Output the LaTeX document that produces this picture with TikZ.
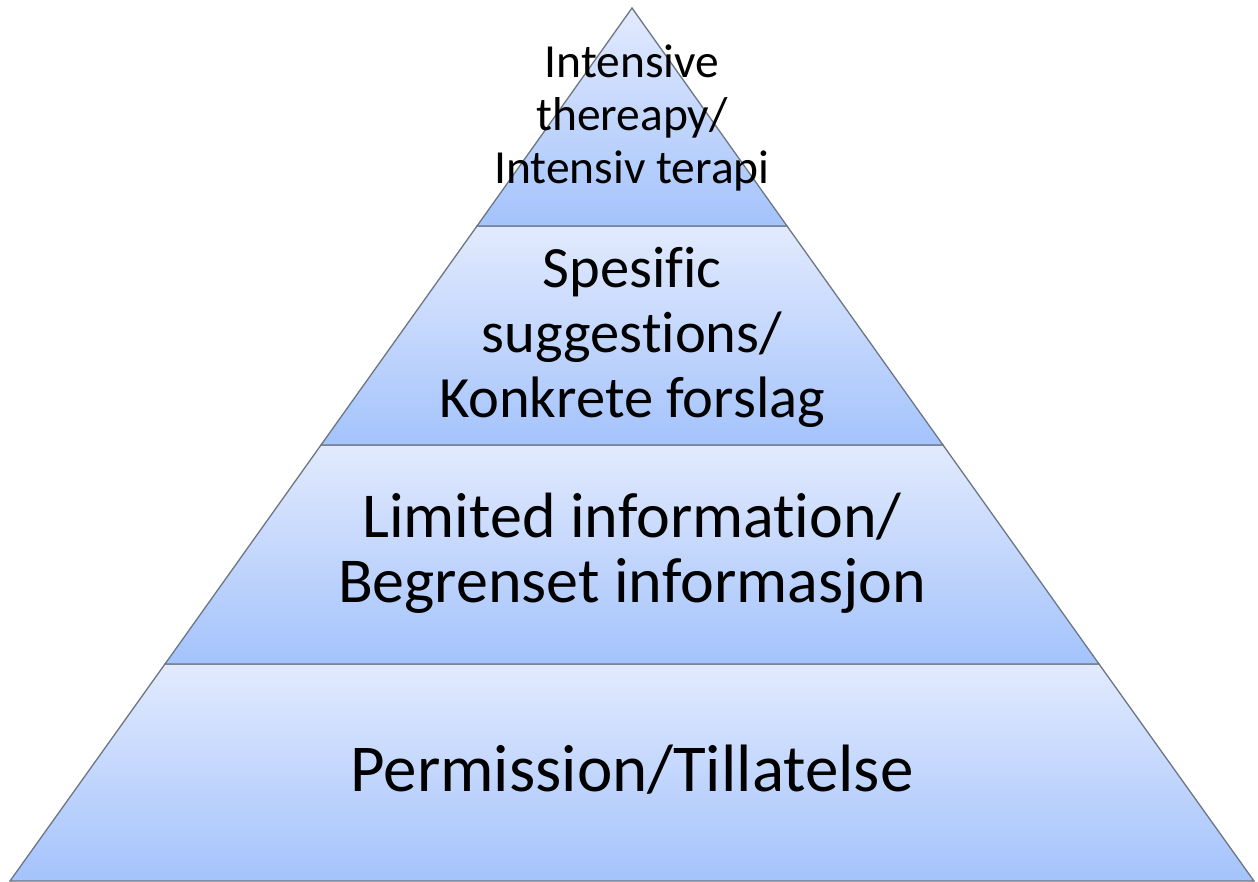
\documentclass[tikz,border=0pt]{standalone}
\usepackage{fontspec}
\setmainfont{Carlito}[Ligatures={NoCommon}]
\definecolor{layertop}{RGB}{226,234,253}
\definecolor{layerbot}{RGB}{164,195,252}
\definecolor{edge}{RGB}{108,118,132}
\begin{document}
\begin{tikzpicture}[x=1pt,y=-1pt,
  layer/.style={draw=edge,line width=1.3pt,line join=miter,top color=layertop,bottom color=layerbot},
  label/.style={align=center,anchor=base,inner sep=0pt,text=black}]
\useasboundingbox (0,0) rectangle (1258,881);
% layers, bottom first
\path[layer] (165,664) -- (1099,664) -- (1254,881) -- (10,881) -- cycle;
\path[layer] (321,445) -- (943,445) -- (1099,664) -- (165,664) -- cycle;
\path[layer] (477,226) -- (787,226) -- (943,445) -- (321,445) -- cycle;
\path[layer] (632,8) -- (787,226) -- (477,226) -- cycle;
% labels (base anchor = baseline of last line)
\node[label,font=\fontsize{47.5}{53}\selectfont] (t1) at (632,183) {Intensive\\thereapy/\\Intensiv terapi};
\node[label,font=\fontsize{58.5}{65}\selectfont] (t2) at (632,417) {Spesific\\suggestions/\\Konkrete forslag};
\node[label,font=\fontsize{64}{65}\selectfont] (t3) at (632,602) {Limited information/\\Begrenset informasjon};
\node[label,font=\fontsize{67}{65}\selectfont] (t4) at (632,791) {Permission/Tillatelse};
\end{tikzpicture}
\end{document}
